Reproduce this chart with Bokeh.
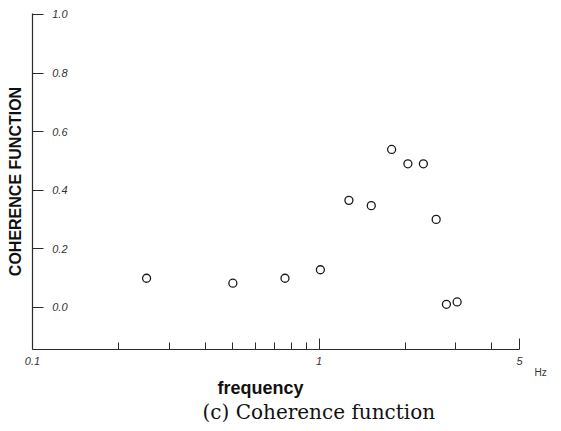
from bokeh.plotting import figure
from bokeh.models import Range1d, FixedTicker, PrintfTickFormatter, Title
from bokeh.embed import file_html
from bokeh.resources import INLINE

# ---- data ----
frequency_hz = [0.25, 0.50, 0.76, 1.01, 1.27, 1.52, 1.79, 2.04, 2.31, 2.56, 2.78, 3.03]
coherence = [0.099, 0.082, 0.099, 0.128, 0.365, 0.347, 0.539, 0.490, 0.490, 0.300, 0.010, 0.018]

x_major_ticks = [0.1, 1, 5]
x_major_labels = ["0.1", "1", "5"]
x_minor_ticks = [0.2, 0.3, 0.4, 0.5, 0.6, 0.7, 0.8, 0.9, 2, 3, 4]
y_ticks = [0.0, 0.2, 0.4, 0.6, 0.8, 1.0]

p = figure(
    width=553, height=431,
    x_axis_type="log",
    x_range=Range1d(0.1, 5.0),
    y_range=Range1d(-0.1445, 1.0034),
    output_backend="svg", toolbar_location=None, title=None,
    min_border_left=32, min_border_right=34, min_border_top=13, min_border_bottom=82,
)
p.outline_line_color = None
p.grid.visible = False
p.background_fill_color = "white"
p.border_fill_color = "white"

tick_font = "Liberation Sans"
axis_col = "#2a2a2a"

xa = p.xaxis[0]
xa.ticker = FixedTicker(ticks=x_major_ticks, minor_ticks=x_minor_ticks)
xa.major_label_overrides = {t: l for t, l in zip(x_major_ticks, x_major_labels)}
xa.axis_line_color = axis_col
xa.axis_line_width = 1.2
xa.major_tick_line_color = axis_col
xa.minor_tick_line_color = axis_col
xa.major_tick_in = 11
xa.major_tick_out = 0
xa.minor_tick_in = 7
xa.minor_tick_out = 0
xa.major_label_standoff = 7
xa.major_label_text_font = tick_font
xa.major_label_text_font_style = "italic"
xa.major_label_text_font_size = "11px"
xa.major_label_text_color = "#333333"

ya = p.yaxis[0]
ya.ticker = FixedTicker(ticks=y_ticks, minor_ticks=[])
ya.formatter = PrintfTickFormatter(format="%.1f")
ya.axis_line_color = axis_col
ya.axis_line_width = 1.2
ya.major_tick_line_color = axis_col
ya.major_tick_in = 11
ya.major_tick_out = 0
ya.minor_tick_line_color = None
ya.major_label_standoff = -35
ya.major_label_text_font = tick_font
ya.major_label_text_font_style = "italic"
ya.major_label_text_font_size = "11px"
ya.major_label_text_color = "#333333"
ya.axis_label = "COHERENCE FUNCTION"
ya.axis_label_standoff = 25
ya.axis_label_text_font = "Liberation Sans"
ya.axis_label_text_font_style = "bold"
ya.axis_label_text_font_size = "16px"
ya.axis_label_text_color = "#111111"

p.scatter(frequency_hz, coherence, marker="circle", size=8,
          fill_color="white", line_color="#1a1a1a", line_width=1.3)

# unit label, x-axis title and caption as titles below the plot
p.add_layout(Title(text="Hz", align="left", offset=502, standoff=-5,
                   text_font="Liberation Sans", text_font_style="normal",
                   text_font_size="10px", text_color="#333333"), "below")
p.add_layout(Title(text="frequency", align="left", offset=185, standoff=0,
                   text_font="Liberation Sans", text_font_style="bold",
                   text_font_size="18px", text_color="#111111"), "below")
p.add_layout(Title(text="(c) Coherence function", align="left", offset=170, standoff=0,
                   text_font="DejaVu Serif", text_font_style="normal",
                   text_font_size="20px", text_color="#111111"), "below")

open("out.html", "w").write(file_html(p, INLINE))
